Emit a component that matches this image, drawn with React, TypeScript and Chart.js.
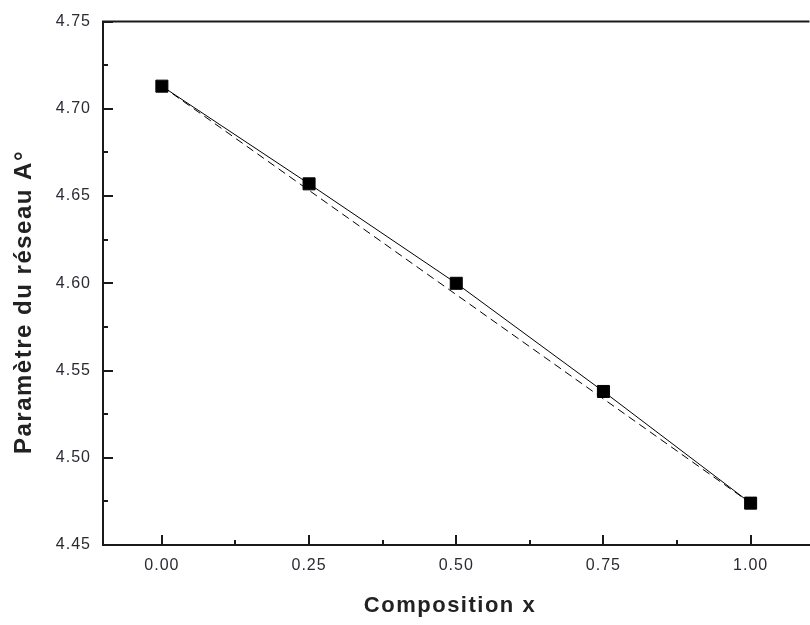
import React, { useEffect, useRef } from "react";
import { Chart, registerables } from "chart.js";

Chart.register(...registerables);

const compositionX = [0, 0.25, 0.5, 0.75, 1.0];
const latticeParam = [4.713, 4.657, 4.6, 4.538, 4.474];
const vegardX = [0, 1.0];
const vegardY = [4.713, 4.474];
const xTickValues = [0, 0.25, 0.5, 0.75, 1.0];
const xMinorTicks = [0.125, 0.375, 0.625, 0.875];
const yTickValues = [4.45, 4.5, 4.55, 4.6, 4.65, 4.7, 4.75];
const yMinorTicks = [4.475, 4.525, 4.575, 4.625, 4.675, 4.725];
const xTitle = "Composition x";
const yTitle = "Paramètre du réseau A°";

const FONT = "'Liberation Sans', Arial, sans-serif";
const INK = "#1a1a1a";

const framePlugin = {
  id: "frame",
  beforeDraw(chart: any) {
    chart.ctx.letterSpacing = "1px";
  },
  afterDraw(chart: any) {
    const { ctx, chartArea, scales } = chart;
    const { left, right, top, bottom } = chartArea;
    ctx.save();
    ctx.strokeStyle = INK;
    ctx.lineWidth = 2;
    ctx.beginPath();
    ctx.moveTo(left - 1, top);
    ctx.lineTo(right, top);
    xTickValues.forEach((v) => {
      const px = Math.round(scales.x.getPixelForValue(v));
      ctx.moveTo(px, bottom);
      ctx.lineTo(px, bottom - 10);
    });
    xMinorTicks.forEach((v) => {
      const px = Math.round(scales.x.getPixelForValue(v));
      ctx.moveTo(px, bottom);
      ctx.lineTo(px, bottom - 5);
    });
    yTickValues.forEach((v) => {
      const py = Math.round(scales.y.getPixelForValue(v));
      ctx.moveTo(left, py);
      ctx.lineTo(left + 10, py);
    });
    yMinorTicks.forEach((v) => {
      const py = Math.round(scales.y.getPixelForValue(v));
      ctx.moveTo(left, py);
      ctx.lineTo(left + 5, py);
    });
    ctx.stroke();

    ctx.letterSpacing = "1.5px";
    ctx.fillStyle = "#222";
    ctx.textAlign = "center";
    ctx.textBaseline = "middle";
    ctx.font = `bold 22px ${FONT}`;
    ctx.fillText(xTitle, 450, 606);
    ctx.translate(24, 302);
    ctx.rotate(-Math.PI / 2);
    ctx.font = `bold 24px ${FONT}`;
    ctx.fillText(yTitle, 0, 0);
    ctx.restore();
  },
};

export default function App() {
  const canvasRef = useRef<HTMLCanvasElement | null>(null);

  useEffect(() => {
    const canvas = canvasRef.current;
    if (!canvas) return;
    const chart = new Chart(canvas, {
      type: "scatter",
      data: {
        datasets: [
          {
            label: "Paramètre",
            data: compositionX.map((x, i) => ({ x, y: latticeParam[i] })),
            showLine: true,
            borderColor: "#000",
            borderWidth: 1,
            backgroundColor: "#000",
            pointStyle: "rect",
            pointRadius: 8.5,
            pointBorderWidth: 1,
            pointBorderColor: "#000",
            pointBackgroundColor: "#000",
          },
          {
            label: "Vegard",
            data: vegardX.map((x, i) => ({ x, y: vegardY[i] })),
            showLine: true,
            borderColor: "#000",
            borderWidth: 1,
            borderDash: [8, 5],
            pointRadius: 0,
          },
        ],
      },
      options: {
        animation: false,
        responsive: false,
        layout: { padding: { top: 19, left: 0, right: 0, bottom: 0 } },
        plugins: {
          legend: { display: false },
          tooltip: { enabled: false },
        },
        scales: {
          x: {
            type: "linear",
            min: -0.1,
            max: 1.1,
            afterBuildTicks: (s: any) => {
              s.ticks = xTickValues.map((v) => ({ value: v }));
            },
            afterFit: (s: any) => {
              s.height = 80;
            },
            ticks: {
              callback: (v: any) => Number(v).toFixed(2),
              font: { family: FONT, size: 16 },
              color: "#2a2a33",
              padding: 11,
              autoSkip: false,
              maxRotation: 0,
            },
            grid: { display: false, drawTicks: false },
            border: { display: true, color: INK, width: 2 },
          },
          y: {
            type: "linear",
            min: 4.45,
            max: 4.75,
            afterBuildTicks: (s: any) => {
              s.ticks = yTickValues.map((v) => ({ value: v }));
            },
            afterFit: (s: any) => {
              s.width = 103;
            },
            ticks: {
              callback: (v: any) => Number(v).toFixed(2),
              font: { family: FONT, size: 16 },
              color: "#2a2a33",
              padding: 12,
              autoSkip: false,
            },
            grid: { display: false, drawTicks: false },
            border: { display: true, color: INK, width: 2 },
          },
        },
      },
      plugins: [framePlugin],
    });
    return () => chart.destroy();
  }, []);

  return (
    <div
      style={{
        position: "fixed",
        left: 0,
        top: 0,
        width: 810,
        height: 625,
        overflow: "hidden",
        background: "#fff",
      }}
    >
      <canvas
        ref={canvasRef}
        width={819}
        height={625}
        style={{ width: 819, height: 625, display: "block" }}
      />
    </div>
  );
}
